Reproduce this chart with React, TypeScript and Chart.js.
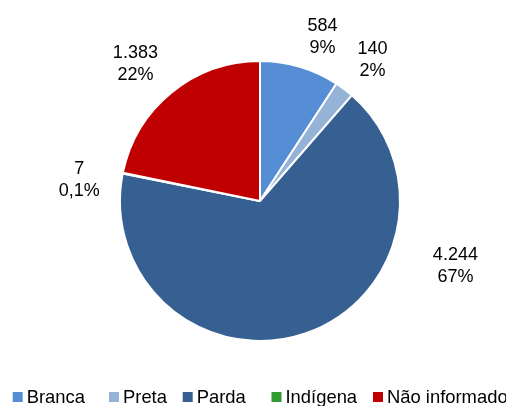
import React, { useEffect, useRef } from "react";
import { Chart, registerables } from "chart.js";

Chart.register(...registerables);

const categories = ["Branca", "Preta", "Parda", "Indígena", "Não informado"];
const values = [584, 140, 4244, 7, 1383];
const colors = ["#558ED5", "#95B3D7", "#376092", "#339933", "#C00000"];

// label anchor (angle in degrees clockwise from top, distance in radius units)
const labelLayout = [
  [20.9, 1.25],
  [38.5, 1.29],
  [108.3, 1.47],
  [276.7, 1.3],
  [317.8, 1.325],
];
// legend item left edges (px)
const legendX = [12.7, 109, 182.7, 271.5, 373];

const FONT = '18px "Liberation Sans", Arial, sans-serif';
const LEGEND_FONT = '18.4px "Liberation Sans", Arial, sans-serif';

function fmtNum(n: number): string {
  return String(n).replace(/\B(?=(\d{3})+(?!\d))/g, ".");
}
function fmtPct(v: number, total: number): string {
  const p = (v / total) * 100;
  if (p < 1) return p.toFixed(1).replace(".", ",") + "%";
  return Math.round(p) + "%";
}

const labelPlugin = {
  id: "sliceLabels",
  afterDatasetsDraw(chart: any) {
    const ctx = chart.ctx;
    const meta = chart.getDatasetMeta(0);
    const data = chart.data.datasets[0].data as number[];
    const total = data.reduce((a, b) => a + b, 0);
    ctx.save();
    ctx.font = FONT;
    ctx.fillStyle = "#000";
    ctx.textAlign = "center";
    ctx.textBaseline = "middle";
    meta.data.forEach((arc: any, i: number) => {
      const [deg, dist] = labelLayout[i];
      const a = (deg * Math.PI) / 180;
      const r = arc.outerRadius * dist;
      const x = arc.x + Math.sin(a) * r;
      const y = arc.y - Math.cos(a) * r;
      ctx.fillText(fmtNum(data[i]), x, y - 11);
      ctx.fillText(fmtPct(data[i], total), x, y + 11);
    });
    ctx.restore();
  },
  afterDraw(chart: any) {
    const ctx = chart.ctx;
    const labels = chart.data.labels as string[];
    const bg = chart.data.datasets[0].backgroundColor as string[];
    ctx.save();
    ctx.font = LEGEND_FONT;
    ctx.textAlign = "left";
    ctx.textBaseline = "alphabetic";
    labels.forEach((lab, i) => {
      const x = legendX[i];
      ctx.fillStyle = bg[i];
      ctx.fillRect(x, 392, 10, 10);
      ctx.fillStyle = "#000";
      ctx.fillText(lab, x + 14, 402.5);
    });
    ctx.restore();
  },
};

export default function App() {
  const ref = useRef<HTMLCanvasElement>(null);
  useEffect(() => {
    if (!ref.current) return;
    const chart = new Chart(ref.current, {
      type: "pie",
      data: {
        labels: categories,
        datasets: [
          {
            data: values,
            backgroundColor: colors,
            borderColor: "#ffffff",
            borderWidth: 2,
            hoverOffset: 0,
          },
        ],
      },
      options: {
        responsive: false,
        animation: false,
        devicePixelRatio: 1,
        layout: { padding: { top: 60, bottom: 64, left: 119, right: 105 } },
        plugins: {
          legend: { display: false },
          tooltip: { enabled: false },
        },
      },
      plugins: [labelPlugin],
    });
    return () => chart.destroy();
  }, []);
  return (
    <div style={{ position: "fixed", left: 0, top: 0, width: 506, height: 406, background: "#fff" }}>
      <canvas ref={ref} width={506} height={406} />
    </div>
  );
}
